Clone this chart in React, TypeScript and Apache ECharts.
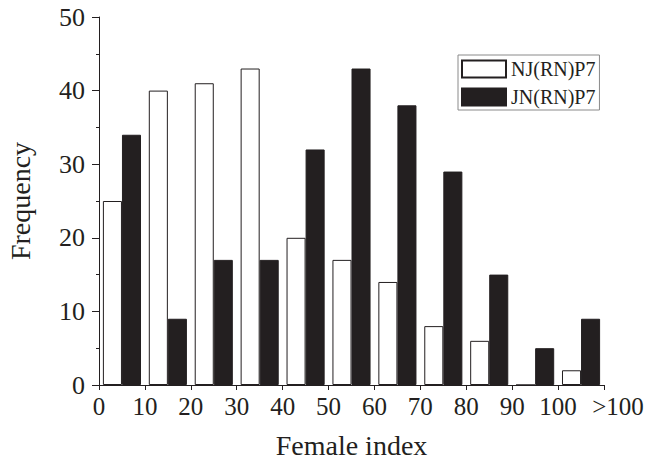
import React, { useEffect, useRef } from "react";
import * as echarts from "echarts";

const bins = ["0-10", "10-20", "20-30", "30-40", "40-50", "50-60", "60-70", "70-80", "80-90", "90-100", ">100"];
const tickLabels = ["0", "10", "20", "30", "40", "50", "60", "70", "80", "90", "100", ">100"];
const njValues = [25, 40, 41, 43, 20, 17, 14, 8, 6, 0, 2];
const jnValues = [34, 9, 17, 17, 32, 43, 38, 29, 15, 5, 9];

const FONT = "Liberation Serif";
const INK = "#231f20";

export default function App() {
  const ref = useRef<HTMLDivElement>(null);
  useEffect(() => {
    if (!ref.current) return;
    const chart = echarts.init(ref.current, null, { renderer: "svg" });
    chart.setOption({
      animation: false,
      textStyle: { fontFamily: FONT, color: INK },
      grid: { left: 99, right: 44, top: 17, bottom: 76, containLabel: false, outerBoundsMode: "none" },
      legend: {
        orient: "vertical",
        left: 458,
        top: 55,
        icon: "rect",
        itemWidth: 44,
        itemHeight: 17,
        itemGap: 8,
        padding: [4, 4, 3, 3],
        borderColor: "#8a8a8a",
        borderWidth: 1,
        textStyle: { fontFamily: FONT, fontSize: 20, lineHeight: 17, color: INK },
        data: ["NJ(RN)P7", "JN(RN)P7"],
      },
      xAxis: [
        {
          type: "category",
          data: bins,
          position: "top",
          show: false,
        },
        {
          type: "value",
          position: "bottom",
          min: 0,
          max: 11,
          interval: 1,
          name: "Female index",
          nameLocation: "middle",
          nameGap: 46,
          nameTextStyle: { fontFamily: FONT, fontSize: 28, color: INK },
          axisLine: { show: true, lineStyle: { color: INK, width: 1 } },
          axisTick: { show: true, inside: false, length: 5, lineStyle: { color: INK } },
          splitLine: { show: false },
          axisLabel: {
            fontFamily: FONT,
            fontSize: 25,
            color: INK,
            margin: 9,
            formatter: (v: number) => {
              const i = Math.round(v);
              const t = tickLabels[i] ?? "";
              return i === tickLabels.length - 1 ? "{gt|" + t + "}" : t;
            },
            rich: {
              gt: { fontFamily: FONT, fontSize: 25, color: INK, padding: [0, 0, 0, 28] },
            },
          },
        },
      ],
      yAxis: {
        type: "value",
        min: 0,
        max: 50,
        interval: 10,
        name: "Frequency",
        nameLocation: "middle",
        nameGap: 65,
        nameRotate: 90,
        nameTextStyle: { fontFamily: FONT, fontSize: 28, color: INK },
        axisLine: { show: true, lineStyle: { color: INK, width: 1 } },
        axisTick: { show: true, inside: false, length: 7, lineStyle: { color: INK } },
        minorTick: { show: true, splitNumber: 2, length: 3, lineStyle: { color: INK } },
        splitLine: { show: false },
        axisLabel: { fontFamily: FONT, fontSize: 26, color: INK, margin: 14 },
      },
      series: [
        {
          name: "NJ(RN)P7",
          type: "bar",
          xAxisIndex: 0,
          data: njValues,
          barGap: "0%",
          barCategoryGap: "17%",
          itemStyle: { color: "#ffffff", borderColor: INK, borderWidth: 1 },
        },
        {
          name: "JN(RN)P7",
          type: "bar",
          xAxisIndex: 0,
          data: jnValues,
          barGap: "0%",
          barCategoryGap: "17%",
          itemStyle: { color: INK, borderColor: INK, borderWidth: 1 },
        },
      ],
    });
    return () => chart.dispose();
  }, []);
  return (
    <div
      ref={ref}
      style={{ position: "absolute", left: 0, top: 0, width: 648, height: 461 }}
    />
  );
}
